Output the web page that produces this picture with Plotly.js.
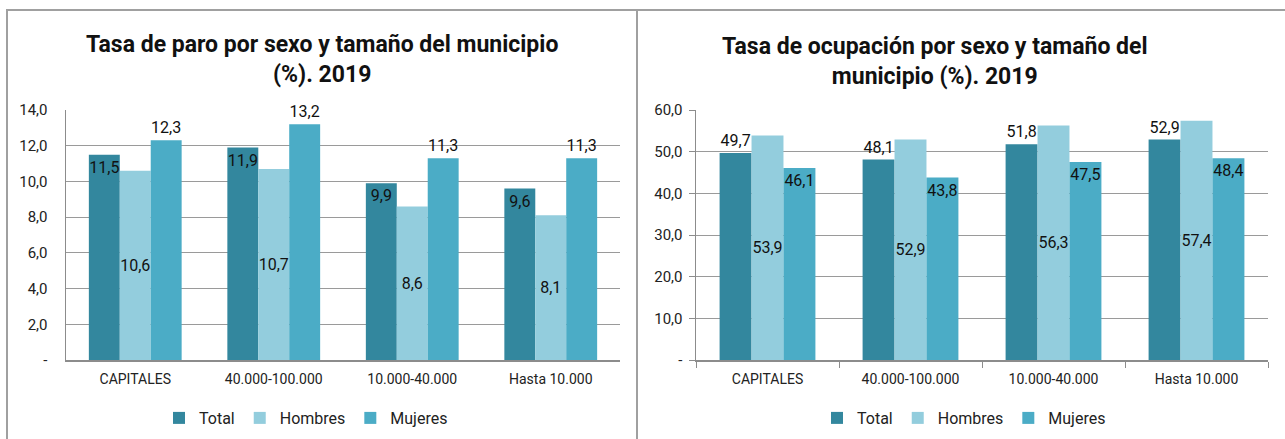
<!DOCTYPE html>
<html>
<head>
<meta charset="utf-8">
<script src="https://cdn.plot.ly/plotly-3.0.1.min.js"></script>
<style>html,body{margin:0;padding:0;background:#fff;}#chart{width:1285px;height:439px;}</style>
</head>
<body>
<div id="chart"></div>
<script>
// ---- data ----
const categories = ["CAPITALES", "40.000-100.000", "10.000-40.000", "Hasta 10.000"];
const seriesNames = ["Total", "Hombres", "Mujeres"];
const paroTotal = [11.5, 11.9, 9.9, 9.6];
const paroHombres = [10.6, 10.7, 8.6, 8.1];
const paroMujeres = [12.3, 13.2, 11.3, 11.3];
const ocupTotal = [49.7, 48.1, 51.8, 52.9];
const ocupHombres = [53.9, 52.9, 56.3, 57.4];
const ocupMujeres = [46.1, 43.8, 47.5, 48.4];
const paroTicks = [0, 2, 4, 6, 8, 10, 12, 14];
const ocupTicks = [0, 10, 20, 30, 40, 50, 60];
const titleParo = "Tasa de paro por sexo y tamaño del municipio<br>(%). 2019";
const titleOcup = "Tasa de ocupación por sexo y tamaño del<br>municipio (%). 2019";

// ---- styles ----
const colors = ["#33879E", "#93CDDD", "#4BACC6"];
const FONT = "Roboto, 'Liberation Sans', sans-serif";
const fmt = v => v === 0 ? "-" : v.toFixed(1).replace(".", ",");
const W = 1285, H = 439;
const px = x => x / W, py = y => 1 - y / H;

function bar(name, x, y, i, xa, ya, pos, anchor, legend, show) {
  const tf = {family: FONT, size: 16, color: "#111"};
  return {
    type: "bar", name: name, x: x, y: y,
    xaxis: xa, yaxis: ya,
    marker: {color: colors[i], line: {width: 0}},
    text: y.map(fmt), textposition: pos, insidetextanchor: anchor,
    constraintext: "none", textangle: 0, cliponaxis: false,
    textfont: tf, insidetextfont: tf, outsidetextfont: tf,
    legend: legend, showlegend: show, hoverinfo: "skip"
  };
}

const data = [
  bar(seriesNames[0], categories, paroTotal, 0, "x", "y", "inside", "end", "legend", true),
  bar(seriesNames[1], categories, paroHombres, 1, "x", "y", "inside", "middle", "legend", true),
  bar(seriesNames[2], categories, paroMujeres, 2, "x", "y", "outside", "end", "legend", true),
  bar(seriesNames[0], categories, ocupTotal, 0, "x2", "y2", "outside", "end", "legend2", true),
  bar(seriesNames[1], categories, ocupHombres, 1, "x2", "y2", "inside", "middle", "legend2", true),
  bar(seriesNames[2], categories, ocupMujeres, 2, "x2", "y2", "inside", "end", "legend2", true)
];

const axisColor = "#8c8c8c";
const tickFont = {family: FONT, size: 15, color: "#222"};
const catFont = {family: FONT, size: 14, color: "#222"};

function yaxis(ticks, range, outsideTicks) {
  return {
    domain: [py(360), py(110)], range: range, fixedrange: true,
    tickmode: "array", tickvals: ticks, ticktext: ticks.map(fmt),
    showgrid: true, gridcolor: "#9a9a9a", gridwidth: 1,
    showline: true, linecolor: axisColor, linewidth: 1.5,
    ticks: outsideTicks ? "outside" : "", ticklen: 6, tickcolor: axisColor,
    tickfont: tickFont, zeroline: false, ticklabelstandoff: outsideTicks ? 3 : 14
  };
}
function xaxis(dom, outsideTicks, anchor) {
  return {
    domain: dom, anchor: anchor, fixedrange: true, type: "category",
    showline: true, linecolor: axisColor, linewidth: 1.5,
    ticks: outsideTicks ? "outside" : "", tickson: "boundaries", ticklen: 6, tickcolor: axisColor,
    tickfont: catFont, showgrid: false, ticklabelstandoff: 6
  };
}

const legendFont = {family: FONT, size: 16, color: "#222"};
const layout = {
  width: W, height: H,
  margin: {l: 0, r: 0, t: 0, b: 0},
  paper_bgcolor: "#fff", plot_bgcolor: "#fff",
  barmode: "group", bargap: 0.33, bargroupgap: 0,
  font: {family: FONT},
  showlegend: true,
  xaxis: xaxis([px(66), px(620)], false, "y"),
  yaxis: yaxis(paroTicks, [0, 14], false),
  xaxis2: xaxis([px(696), px(1268)], true, "y2"),
  yaxis2: Object.assign(yaxis(ocupTicks, [0, 60], true), {anchor: "x2"}),
  legend: {orientation: "h", x: px(306), xanchor: "center", y: py(418), yanchor: "middle",
    font: legendFont, bgcolor: "rgba(0,0,0,0)",
    itemclick: false, itemdoubleclick: false, itemwidth: 30},
  legend2: {orientation: "h", x: px(964), xanchor: "center", y: py(418), yanchor: "middle",
    font: legendFont, bgcolor: "rgba(0,0,0,0)",
    itemclick: false, itemdoubleclick: false, itemwidth: 30},
  annotations: [
    {xref: "paper", yref: "paper", x: px(322), y: py(60), xanchor: "center", yanchor: "middle",
     text: "<b>" + titleParo + "</b>", showarrow: false,
     font: {family: FONT, size: 23, color: "#111"}},
    {xref: "paper", yref: "paper", x: px(935), y: py(62), xanchor: "center", yanchor: "middle",
     text: "<b>" + titleOcup + "</b>", showarrow: false,
     font: {family: FONT, size: 23, color: "#111"}}
  ],
  shapes: [
    {type: "line", xref: "paper", yref: "paper", x0: px(6), x1: 1, y0: py(10), y1: py(10), line: {color: "#a0a0a0", width: 2}},
    {type: "line", xref: "paper", yref: "paper", x0: px(7), x1: px(7), y0: py(10), y1: 0, line: {color: "#a0a0a0", width: 2}},
    {type: "line", xref: "paper", yref: "paper", x0: px(637), x1: px(637), y0: py(10), y1: 0, line: {color: "#a0a0a0", width: 2}}
  ]
};

Plotly.newPlot("chart", data, layout, {displayModeBar: false, staticPlot: true});
</script>
</body>
</html>
